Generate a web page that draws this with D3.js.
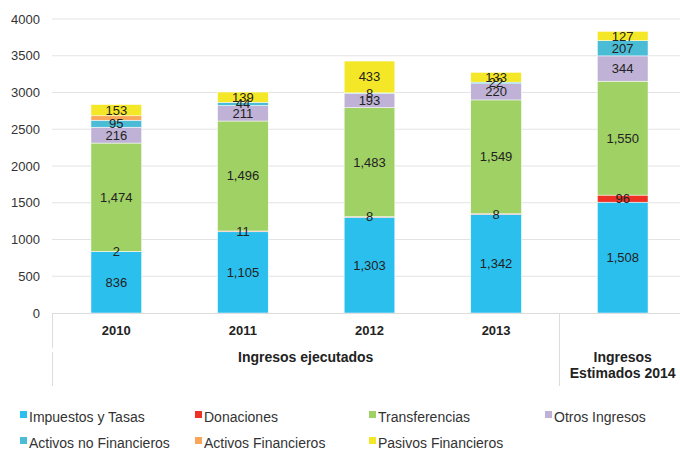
<!DOCTYPE html>
<html>
<head>
<meta charset="utf-8">
<script src="https://cdn.jsdelivr.net/npm/d3@7"></script>
<style>
  body { margin: 0; background: #fff; }
  text { font-family: "Liberation Sans", Arial, sans-serif; }
</style>
</head>
<body>
<div id="chart"></div>
<script>
// data
var years = ["2010", "2011", "2012", "2013", "2014"];
var series = ["Impuestos y Tasas", "Donaciones", "Transferencias", "Otros Ingresos",
              "Activos no Financieros", "Activos Financieros", "Pasivos Financieros"];
var impuestos      = [836, 1105, 1303, 1342, 1508];
var donaciones     = [2, 11, 8, 8, 96];
var transferencias = [1474, 1496, 1483, 1549, 1550];
var otros          = [216, 211, 193, 220, 344];
var activosNoFin   = [95, 44, 8, 22, 207];
var activosFin     = [60, 0, 0, 0, 0];
var pasivos        = [153, 139, 433, 133, 127];
var yTicks = [0, 500, 1000, 1500, 2000, 2500, 3000, 3500, 4000];

var colors = ["#2bbfee", "#ee3124", "#9fd164", "#bfb2d6", "#4bbcd6", "#f9a65a", "#f4e727"];
var values = [impuestos, donaciones, transferencias, otros, activosNoFin, activosFin, pasivos];

var W = 680, H = 449;
var margin = { top: 19, left: 53, right: 0, bottom: 136 };
var plotBottom = H - margin.bottom; // 313

var svg = d3.select("#chart").append("svg")
    .attr("width", W).attr("height", H);

var x = d3.scaleBand().domain(years).range([53, 686]).paddingInner(0.6).paddingOuter(0.3);
var y = d3.scaleLinear().domain([0, 4000]).range([plotBottom, margin.top]);

// grid
svg.append("g").selectAll("line")
    .data(yTicks.slice(1))
    .enter().append("line")
    .attr("x1", 52).attr("x2", 680)
    .attr("y1", d => y(d)).attr("y2", d => y(d))
    .attr("stroke", "#e3e3e3").attr("stroke-width", 1);

// y labels
svg.append("g").selectAll("text")
    .data(yTicks)
    .enter().append("text")
    .attr("x", 40).attr("y", d => y(d) + 4.5)
    .attr("text-anchor", "end")
    .style("font-size", "13px").style("fill", "#333")
    .text(d => d);

// stack
var table = years.map(function (yr, i) {
    var row = { year: yr };
    series.forEach(function (s, j) { row[s] = values[j][i]; });
    return row;
});
var stacked = d3.stack().keys(series)(table);
var fmt = d3.format(",");

stacked.forEach(function (layer, j) {
    var g = svg.append("g");
    g.selectAll("rect")
        .data(layer)
        .enter().append("rect")
        .attr("x", d => x(d.data.year))
        .attr("width", x.bandwidth())
        .attr("y", d => y(d[1]))
        .attr("height", d => y(d[0]) - y(d[1]))
        .attr("fill", colors[j])
        .attr("stroke", "#fff").attr("stroke-width", 0.5);
});

// labels on top of bars
stacked.forEach(function (layer, j) {
    if (series[j] == "Activos Financieros") return;
    svg.append("g").selectAll("text")
        .data(layer.filter(d => d[1] - d[0] > 0))
        .enter().append("text")
        .attr("x", d => x(d.data.year) + x.bandwidth() / 2)
        .attr("y", d => y((d[0] + d[1]) / 2) + 4.5)
        .attr("text-anchor", "middle")
        .style("font-size", "13px").style("fill", "#222")
        .text(d => fmt(d[1] - d[0]));
});

// category axis
var ax = svg.append("g").attr("stroke", "#dcdcdc").attr("stroke-width", 1);
ax.append("line").attr("x1", 52).attr("x2", 680).attr("y1", plotBottom + 0.5).attr("y2", plotBottom + 0.5);
ax.append("line").attr("x1", 52.5).attr("x2", 52.5).attr("y1", plotBottom).attr("y2", 348);
ax.append("line").attr("x1", 52.5).attr("x2", 52.5).attr("y1", 352).attr("y2", 386);
var sep = (x("2013") + x.bandwidth() + x("2014")) / 2;
ax.append("line").attr("x1", Math.round(sep) + 0.5).attr("x2", Math.round(sep) + 0.5).attr("y1", plotBottom).attr("y2", 386);

svg.append("g").selectAll("text")
    .data(years.slice(0, 4))
    .enter().append("text")
    .attr("x", d => x(d) + x.bandwidth() / 2)
    .attr("y", 335)
    .attr("text-anchor", "middle")
    .style("font-size", "13px").style("font-weight", "bold").style("fill", "#222")
    .text(d => d);

svg.append("text")
    .attr("x", (52 + sep) / 2).attr("y", 362)
    .attr("text-anchor", "middle")
    .style("font-size", "14px").style("font-weight", "bold").style("fill", "#222")
    .text("Ingresos ejecutados");

var est = svg.append("text")
    .attr("x", x("2014") + x.bandwidth() / 2).attr("y", 362)
    .attr("text-anchor", "middle")
    .style("font-size", "14px").style("font-weight", "bold").style("fill", "#222");
est.append("tspan").attr("x", x("2014") + x.bandwidth() / 2).attr("dy", 0).text("Ingresos");
est.append("tspan").attr("x", x("2014") + x.bandwidth() / 2).attr("dy", 16).text("Estimados 2014");

// legend
var legX = [20, 195, 369, 545];
var leg = svg.append("g").selectAll("g")
    .data(series)
    .enter().append("g")
    .attr("transform", (d, i) => "translate(" + legX[i % 4] + "," + (i < 4 ? 411 : 437) + ")");
leg.append("rect").attr("x", 0).attr("y", 0).attr("width", 7).attr("height", 7)
    .attr("fill", (d, i) => colors[i]);
leg.append("text").attr("x", 9).attr("y", 10.5)
    .style("font-size", "14px").style("fill", "#333")
    .text(d => d);
</script>
</body>
</html>
